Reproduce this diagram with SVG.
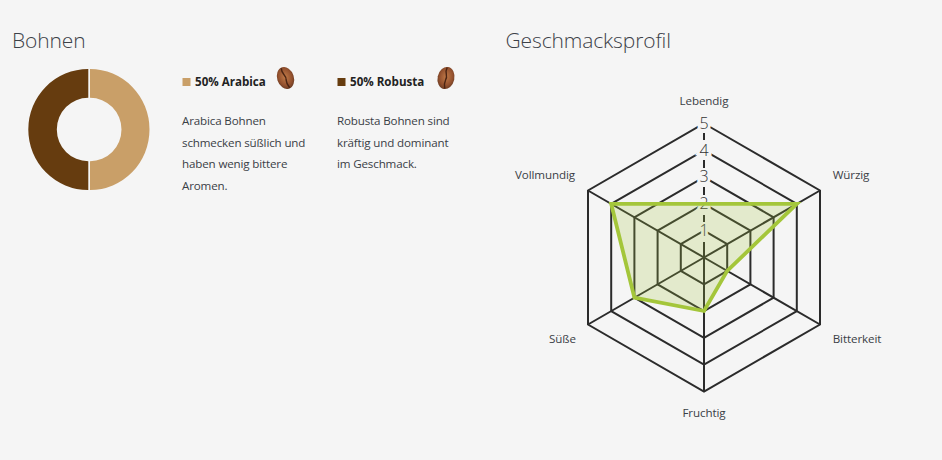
<svg xmlns="http://www.w3.org/2000/svg" width="942" height="460" viewBox="0 0 942 460">
<style>
text{font-family:"Open Sans","Noto Sans","Liberation Sans",sans-serif;fill:#3a4046}
.h{font-size:21px;font-weight:300;fill:#3c4148;letter-spacing:-0.12px}
.b{font-size:11.6px;font-weight:400;letter-spacing:-0.15px}
.l{font-size:11.6px;font-weight:700;fill:#222}
.a{font-size:11.6px;text-anchor:middle;letter-spacing:-0.1px}
.n{font-size:16px;font-weight:300;text-anchor:middle;fill:#333;stroke:#f5f5f5;stroke-width:6px;paint-order:stroke}
.g{fill:none;stroke:#2b2b2b;stroke-width:2}
</style>
<defs>
<radialGradient id="bean" cx="0.5" cy="0.45" r="0.65"><stop offset="0" stop-color="#c07a48"/><stop offset="0.6" stop-color="#94512e"/><stop offset="1" stop-color="#54301e"/></radialGradient>
<g id="beanIcon"><ellipse rx="8.400" ry="11.200" fill="url(#bean)"/><path d="M-1-10.500C-3-4 2-3 0 2C-1 6 0 8 1 10.500" fill="none" stroke="#4a2413" stroke-width="1.400"/></g>
</defs>
<rect width="942" height="460" fill="#f5f5f5"/>
<text class="h" x="12" y="48">Bohnen</text>
<text class="h" x="505.500" y="48">Geschmacksprofil</text>
<g id="donut">
<path d="M90 69A59.500 60.500 0 0 1 90 190V161.200A31.500 31.700 0 0 0 90 97.800Z" fill="#c99f68"/>
<path d="M88.300 69A60 60.500 0 0 0 88.300 190V161.200A31.500 31.700 0 0 1 88.300 97.800Z" fill="#663c0f"/>
</g>
<g id="arabica">
<rect x="182.500" y="78" width="8" height="8" fill="#c99f68"/>
<text class="l" x="195" y="86">50% Arabica</text>
<use href="#beanIcon" transform="translate(285.500 78) rotate(-18)"/>
<text class="b" x="182" y="125">Arabica Bohnen</text>
<text class="b" x="182" y="147">schmecken süßlich und</text>
<text class="b" x="182" y="168">haben wenig bittere</text>
<text class="b" x="182" y="190">Aromen.</text>
</g>
<g id="robusta">
<rect x="337.500" y="78" width="8" height="8" fill="#663c0f"/>
<text class="l" x="350" y="86">50% Robusta</text>
<use href="#beanIcon" transform="translate(446 78) rotate(12)"/>
<text class="b" x="337" y="125">Robusta Bohnen sind</text>
<text class="b" x="337" y="147">kräftig und dominant</text>
<text class="b" x="337" y="168">im Geschmack.</text>
</g>
<g id="connectors">
<polygon class="g" points="704,230.700 727.200,244.100 727.200,270.900 704,284.300 680.800,270.900 680.800,244.100"/>
<polygon class="g" points="704,203.900 750.400,230.700 750.400,284.300 704,311.100 657.600,284.300 657.600,230.700"/>
<polygon class="g" points="704,177.100 773.600,217.300 773.600,297.700 704,337.900 634.400,297.700 634.400,217.300"/>
<polygon class="g" points="704,150.300 796.800,203.900 796.800,311.100 704,364.700 611.200,311.100 611.200,203.900"/>
<polygon class="g" points="704,123.500 820,190.500 820,324.500 704,391.500 588,324.500 588,190.500"/>
<path class="g" d="M704 257.500L820 190.500M704 257.500L820 324.500M704 257.500V391.500M704 257.500L588 324.500M704 257.500L588 190.500"/>
</g>
<g id="scale">
<text class="n" x="704" y="128.500">5</text>
<text class="n" x="704" y="155.500">4</text>
<text class="n" x="704" y="181.500">3</text>
<text class="n" x="704" y="209">2</text>
<text class="n" x="704" y="235.500">1</text>
</g>
<g id="axis">
<path class="g" d="M704 257.500V242M704 222V215M704 195V187M704 168V160M704 140V133"/>
</g>
<g id="radar-polygon">
<polygon points="704,203.900 796.800,203.900 727.200,270.900 704,311 634.400,297.700 611.200,203.900" fill="#a4c63a" fill-opacity="0.22" stroke="#a4c63a" stroke-width="3.800"/>
</g>
<g id="labels">
<text class="a" x="704" y="105">Lebendig</text>
<text class="a" x="851" y="179">Würzig</text>
<text class="a" x="857" y="343">Bitterkeit</text>
<text class="a" x="704" y="417">Fruchtig</text>
<text class="a" x="562.500" y="343">Süße</text>
<text class="a" x="545" y="179">Vollmundig</text>
</g>
</svg>
